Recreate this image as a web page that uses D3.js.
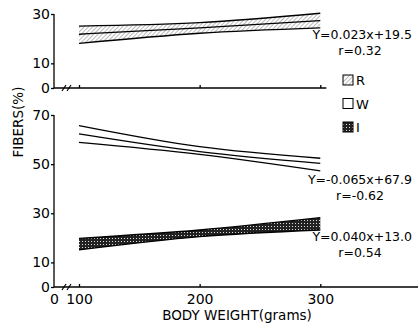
<!DOCTYPE html>
<html><head><meta charset="utf-8">
<script src="https://cdn.jsdelivr.net/npm/d3@7"></script>
<style>
body{margin:0;background:#fff;}
svg{display:block;font-family:"DejaVu Sans","Liberation Sans",sans-serif;}
</style></head><body>
<svg id="c" width="418" height="323"></svg>
<script>
// Data (fiber %, upper band / fit / lower band)
const weights = [100, 200, 300];
const rUpper = [25.1, 26.5, 30.3];
const rMid   = [21.8, 24.4, 27.3];
const rLower = [18.1, 22.2, 24.4];
const wUpper = [65.7, 57.1, 52.4];
const wMid   = [62.3, 55.1, 50.3];
const wLower = [58.9, 54.0, 47.3];
const iUpper = [19.8, 23.2, 28.2];
const iMid   = [17.8, 21.9, 25.7];
const iLower = [15.1, 20.5, 23.2];
const xTicks = [0, 100, 200, 300];
const topTicks = [0, 10, 30];
const botTicks = [0, 10, 30, 50, 70];
const legendLabels = ["R", "W", "I"];
const eqTexts = [["Y=0.023x+19.5", "r=0.32"], ["Y=-0.065x+67.9", "r=-0.62"], ["Y=0.040x+13.0", "r=0.54"]];

const svg = d3.select("#c");
const defs = svg.append("defs");
const ph = defs.append("pattern").attr("id","hatch").attr("patternUnits","userSpaceOnUse")
  .attr("width",3).attr("height",3).attr("patternTransform","rotate(45)");
ph.append("rect").attr("width",3).attr("height",3).attr("fill","#fff");
ph.append("line").attr("x1",0).attr("y1",0).attr("x2",0).attr("y2",3).attr("stroke","#777").attr("stroke-width",1);
const pd = defs.append("pattern").attr("id","dots").attr("patternUnits","userSpaceOnUse")
  .attr("width",3).attr("height",3);
pd.append("rect").attr("width",3).attr("height",3).attr("fill","#222");
pd.append("rect").attr("x",1).attr("y",1).attr("width",1).attr("height",1).attr("fill","#ddd");

const x = d3.scaleLinear().domain([0, 100, 381]).range([54, 79, 418]);
const yTop = d3.scaleLinear().domain([0, 30]).range([88, 14]);
const yBot = d3.scaleLinear().domain([0, 70]).range([287, 115]);
const curve = d3.curveNatural;

function band(y, up, lo, fill) {
  const pts = weights.map((w,i)=>({w, u:up[i], l:lo[i]}));
  const area = d3.area().x(d=>x(d.w)).y0(d=>y(d.l)).y1(d=>y(d.u)).curve(curve);
  svg.append("path").datum(pts).attr("d", area).attr("fill", fill).attr("stroke","none");
}
function line(y, vals) {
  const pts = weights.map((w,i)=>({w, v:vals[i]}));
  svg.append("path").datum(pts)
    .attr("d", d3.line().x(d=>x(d.w)).y(d=>y(d.v)).curve(curve))
    .attr("fill","none").attr("stroke","#000").attr("stroke-width",1.3);
}

band(yTop, rUpper, rLower, "url(#hatch)");
[rUpper, rMid, rLower].forEach(v=>line(yTop, v));
[wUpper, wMid, wLower].forEach(v=>line(yBot, v));
band(yBot, iUpper, iLower, "url(#dots)");
[iUpper, iLower].forEach(v=>line(yBot, v));

function styleAxis(g){
  g.selectAll("path,line").attr("stroke","#000").attr("stroke-width",1.3);
  g.selectAll("text").attr("fill","#000").attr("font-size",14).attr("font-family","DejaVu Sans, sans-serif");
}
svg.append("g").attr("transform","translate(54,0)")
  .call(d3.axisLeft(yTop).tickValues(topTicks).tickSize(3).tickPadding(1).tickFormat(d3.format("d")))
  .call(styleAxis).call(g=>g.select(".domain").attr("d", `M0,${yTop(30)}V${yTop(0)}`));
svg.append("g").attr("transform","translate(54,0)")
  .call(d3.axisLeft(yBot).tickValues(botTicks).tickSize(3).tickPadding(1).tickFormat(d3.format("d")))
  .call(styleAxis).call(g=>g.select(".domain").attr("d", `M0,${yBot(70)}V${yBot(0)}`));

svg.append("g").attr("transform",`translate(0,${yTop(0)})`)
  .call(d3.axisBottom(x).tickValues([100,200,300]).tickSizeInner(-3).tickSizeOuter(0).tickFormat(""))
  .call(styleAxis).call(g=>g.select(".domain").attr("d", `M${x(0)},0H${x(305)}`));
svg.append("g").attr("transform",`translate(0,${yBot(0)})`)
  .call(d3.axisBottom(x).tickValues(xTicks).tickSizeInner(-3).tickSizeOuter(0).tickPadding(7).tickFormat(d3.format("d")))
  .call(styleAxis).call(g=>g.select(".domain").attr("d", `M${x(0)},0H418`))
  .call(g=>g.selectAll(".tick").filter(d=>d===0).select("line").remove());

[yTop(0), yBot(0)].forEach(yy=>{
  [64, 69].forEach(xx=>{
    svg.append("line").attr("x1",xx-2).attr("y1",yy+3).attr("x2",xx+2).attr("y2",yy-3)
      .attr("stroke","#000").attr("stroke-width",1.2);
  });
});

svg.append("text").attr("transform","translate(23,122) rotate(-90)").attr("text-anchor","middle")
  .attr("font-size",13.5).text("FIBERS(%)");
svg.append("text").attr("x",237).attr("y",320).attr("text-anchor","middle")
  .attr("font-size",13.5).text("BODY WEIGHT(grams)");

const eqY = [35, 180, 237];
eqTexts.forEach((t,i)=>{
  svg.append("text").attr("x",412).attr("y",eqY[i]+4).attr("text-anchor","end").attr("font-size",12.5).text(t[0]);
  svg.append("text").attr("x",360).attr("y",eqY[i]+20).attr("text-anchor","middle").attr("font-size",12.5).text(t[1]);
});

const legFill = ["url(#hatch)", "#fff", "url(#dots)"];
legendLabels.forEach((lab,i)=>{
  const ly = 75 + i*23.5;
  svg.append("rect").attr("x",343).attr("y",ly).attr("width",10).attr("height",10)
    .attr("fill",legFill[i]).attr("stroke","#000").attr("stroke-width",1);
  svg.append("text").attr("x",356).attr("y",ly+10).attr("font-size",13).text(lab);
});
</script></body></html>
